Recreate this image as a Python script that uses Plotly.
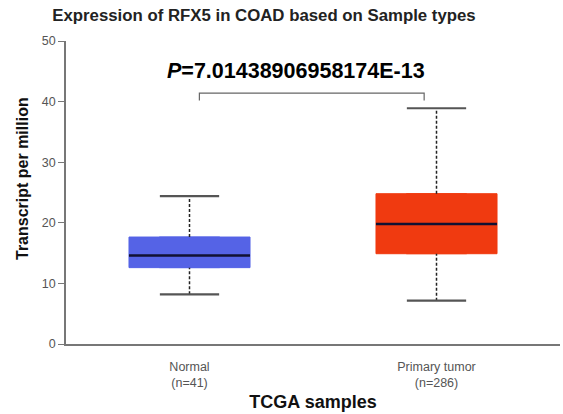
import plotly.graph_objects as go

# ---- data ----
categories = ["Normal", "Primary tumor"]
n_samples = [41, 286]
lower_whisker = [8.2, 7.15]
q1_values = [12.6, 14.9]
median_values = [14.6, 19.8]
q3_values = [17.65, 24.8]
upper_whisker = [24.4, 38.9]
box_colors = ["#5563E6", "#F03A10"]
p_value = "7.01438906958174E-13"
y_ticks = [0, 10, 20, 30, 40, 50]

positions = list(range(len(categories)))
box_w = 0.49
cap_w = 0.24
FONT = "Liberation Sans, Arial, sans-serif"

fig = go.Figure()

# boxes
for pos, cat, a, m, b, col in zip(positions, categories, q1_values, median_values, q3_values, box_colors):
    fig.add_trace(go.Box(
        x=[pos], q1=[a], median=[m], q3=[b], lowerfence=[a], upperfence=[b],
        width=box_w, fillcolor=col, line=dict(color=col, width=1),
        name=cat, showlegend=False, hoverinfo="skip", boxpoints=False))

# dashed whiskers
wx, wy = [], []
for pos, lo, a, b, hi in zip(positions, lower_whisker, q1_values, q3_values, upper_whisker):
    wx += [pos, pos, None, pos, pos, None]
    wy += [lo, a, None, b, hi, None]
fig.add_trace(go.Scatter(x=wx, y=wy, mode="lines", line=dict(color="#222", width=1.5, dash="3px,2px"),
                         showlegend=False, hoverinfo="skip"))

# caps
cx, cy = [], []
for pos, lo, hi in zip(positions, lower_whisker, upper_whisker):
    cx += [pos - cap_w / 2, pos + cap_w / 2, None, pos - cap_w / 2, pos + cap_w / 2, None]
    cy += [lo, lo, None, hi, hi, None]
fig.add_trace(go.Scatter(x=cx, y=cy, mode="lines", line=dict(color="#555", width=2.2),
                         showlegend=False, hoverinfo="skip"))

# medians
mx, my = [], []
for pos, m in zip(positions, median_values):
    mx += [pos - box_w / 2, pos + box_w / 2, None]
    my += [m, m, None]
fig.add_trace(go.Scatter(x=mx, y=my, mode="lines", line=dict(color="#111133", width=2.5),
                         showlegend=False, hoverinfo="skip"))

# significance bracket
top = max(upper_whisker) + 2.5
bx = [positions[0] + 0.04, positions[0] + 0.04, positions[1] - 0.05, positions[1] - 0.05]
by = [top - 1.2, top, top, top - 1.2]
fig.add_trace(go.Scatter(x=bx, y=by, mode="lines", line=dict(color="#666", width=1.2),
                         showlegend=False, hoverinfo="skip"))

fig.add_annotation(x=0.43, y=45.0, xref="x", yref="y", showarrow=False,
                   text="<b><i>P</i>=" + p_value + "</b>",
                   font=dict(family=FONT, size=21.5, color="#000"))

# y-axis title placed as a rotated annotation (pixel-matched)
plot_w = 563 - 66 - 3
plot_h = 414 - 41 - 70
fig.add_annotation(x=(22 - 66) / plot_w, xref="paper", xanchor="center",
                   y=(414 - 70 - 179) / plot_h, yref="paper", yanchor="middle",
                   showarrow=False, text="<b>Transcript per million</b>", textangle=-90,
                   font=dict(family=FONT, size=16, color="#111"))

ticktext = [f"{c}<br>(n={n})" for c, n in zip(categories, n_samples)]

fig.update_layout(
    width=563, height=414,
    margin=dict(l=66, r=3, t=41, b=70),
    paper_bgcolor="white", plot_bgcolor="white",
    font=dict(family=FONT, color="#555"),
    title=dict(text="<b>Expression of RFX5 in COAD based on Sample types</b>",
               x=264 / 563, xanchor="center", y=1 - 15 / 414, yanchor="middle",
               font=dict(size=16.8, color="#222")),
    xaxis=dict(range=[-0.5, 1.5], tickvals=positions, ticktext=ticktext,
               showgrid=False, zeroline=False, showline=True, linecolor="#777", linewidth=1.5,
               ticks="", tickfont=dict(size=12.5, color="#555"), ticklabelstandoff=10,
               title=dict(text="<b>TCGA samples</b>", font=dict(size=18, color="#111"), standoff=6)),
    yaxis=dict(range=[0, 50], tickvals=y_ticks, showgrid=False, zeroline=False,
               showline=True, linecolor="#777", linewidth=1.5,
               ticks="outside", ticklen=6, tickcolor="#777", tickwidth=1.2,
               tickfont=dict(size=12.5, color="#555")),
)

fig.write_html("out.html", config={"displayModeBar": False},
               post_script="document.body.style.margin='0';document.body.style.overflow='hidden';")
